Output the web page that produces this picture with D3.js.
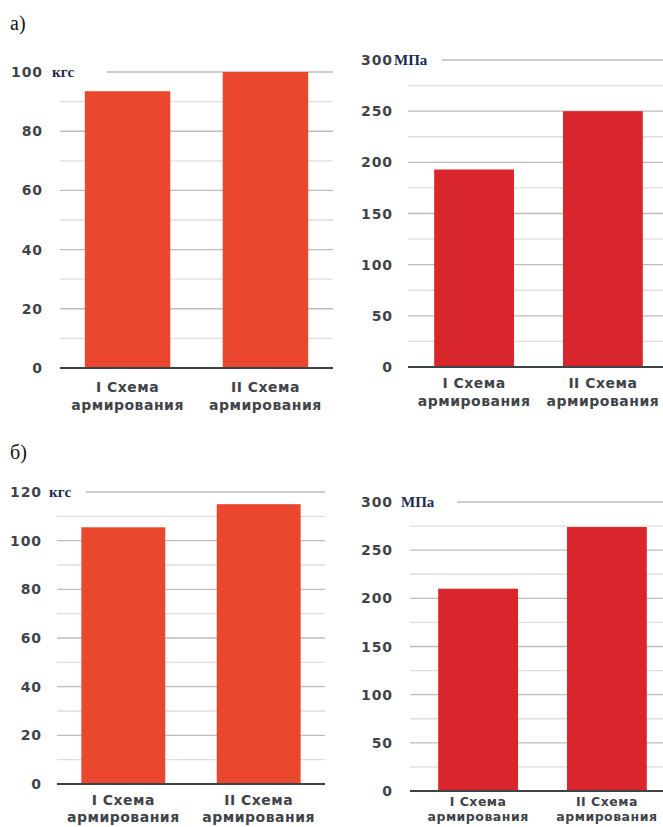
<!DOCTYPE html>
<html>
<head>
<meta charset="utf-8">
<script src="https://cdn.jsdelivr.net/npm/d3@7"></script>
<style>
  html, body { margin: 0; padding: 0; background: #fff; }
  svg { display: block; }
</style>
</head>
<body>
<svg id="chart" width="663" height="827"></svg>
<script>
// ---- data ----
const categories = [["I Схема", "армирования"], ["II Схема", "армирования"]];
const forceA = [93.5, 100];      // а) кгс
const stressA = [193, 250];      // а) МПа
const forceB = [105.5, 115];     // б) кгс
const stressB = [210, 274];      // б) МПа
const unitForce = "кгс";
const unitStress = "МПа";
const panelLetters = ["а)", "б)"];
const forceTicksA = [0, 20, 40, 60, 80, 100];
const stressTicks = [0, 50, 100, 150, 200, 250, 300];
const forceTicksB = [0, 20, 40, 60, 80, 100, 120];

const svg = d3.select("#chart");

const panels = [
  { values: forceA, ticks: forceTicksA, minorStep: 10, max: 100, unit: unitForce,
    y0: 368, y1: 72, gx0: 60, gx1: 333, topGx0: 107, bx0: 60, bx1: 333,
    labelX: 43, unitX: 52, color: "#E9482F", catDy: 19, lineGap: "1.3em", catSize: 14 },
  { values: stressA, ticks: stressTicks, minorStep: 25, max: 300, unit: unitStress,
    y0: 367, y1: 60, gx0: 408, gx1: 663, topGx0: 442, bx0: 411, bx1: 666,
    labelX: 393, unitX: 394, color: "#D9262D", catDy: 16, lineGap: "1.3em", catSize: 14 },
  { values: forceB, ticks: forceTicksB, minorStep: 10, max: 120, unit: unitForce,
    y0: 784, y1: 492, gx0: 57, gx1: 325, topGx0: 86, bx0: 57, bx1: 325,
    labelX: 42, unitX: 49, color: "#E9482F", catDy: 16, lineGap: "1.25em", catSize: 14 },
  { values: stressB, ticks: stressTicks, minorStep: 25, max: 300, unit: unitStress,
    y0: 791, y1: 502, gx0: 410, gx1: 663, topGx0: 457, bx0: 415, bx1: 670,
    labelX: 393, unitX: 401, color: "#D9262D", catDy: 10.5, lineGap: "1.2em", catSize: 12.5 }
];

// panel letters
svg.append("text").attr("x", 10).attr("y", 30)
  .attr("font-family", "Liberation Serif, serif").attr("font-size", 20)
  .attr("fill", "#111").text(panelLetters[0]);
svg.append("text").attr("x", 10).attr("y", 459)
  .attr("font-family", "Liberation Serif, serif").attr("font-size", 20)
  .attr("fill", "#111").text(panelLetters[1]);

panels.forEach((p, pi) => {
  const g = svg.append("g");
  const y = d3.scaleLinear().domain([0, p.max]).range([p.y0, p.y1]);
  const x = d3.scaleBand().domain(d3.range(p.values.length))
    .range([p.bx0, p.bx1]).paddingInner(0.38).paddingOuter(0.18);

  // minor grid lines
  const minor = d3.range(p.minorStep, p.max, p.minorStep).filter(v => !p.ticks.includes(v));
  g.selectAll(".minor").data(minor).join("line")
    .attr("x1", p.gx0).attr("x2", p.gx1)
    .attr("y1", d => y(d)).attr("y2", d => y(d))
    .attr("stroke", "#dedede").attr("stroke-width", 1.3);

  // major grid lines
  g.selectAll(".major").data(p.ticks.filter(t => t > 0)).join("line")
    .attr("x1", d => d === p.max ? p.topGx0 : p.gx0).attr("x2", p.gx1)
    .attr("y1", d => y(d)).attr("y2", d => y(d))
    .attr("stroke", "#bdbdbd").attr("stroke-width", 1.4);

  // bars
  g.selectAll(".bar").data(p.values).join("rect")
    .attr("x", (d, i) => x(i)).attr("width", x.bandwidth())
    .attr("y", d => y(d)).attr("height", d => y(0) - y(d))
    .attr("fill", p.color);

  // baseline
  g.append("line").attr("x1", p.gx0).attr("x2", p.gx1)
    .attr("y1", y(0)).attr("y2", y(0))
    .attr("stroke", "#3d4448").attr("stroke-width", 2);

  // tick labels
  g.selectAll(".tl").data(p.ticks).join("text")
    .attr("x", p.labelX).attr("y", d => y(d)).attr("dy", "0.36em")
    .attr("text-anchor", "end")
    .attr("font-family", "DejaVu Sans, sans-serif").attr("font-size", 14)
    .attr("font-weight", 600).attr("letter-spacing", 0.9)
    .attr("fill", "#3f4448").text(d => d);

  // unit label
  g.append("text").attr("x", p.unitX).attr("y", y(p.max)).attr("dy", "0.35em")
    .attr("font-family", "Liberation Serif, serif").attr("font-size", 15)
    .attr("font-weight", "bold").attr("fill", "#1c2a55").text(p.unit);

  // category labels
  categories.forEach((lines, i) => {
    const t = g.append("text")
      .attr("x", x(i) + x.bandwidth() / 2).attr("y", y(0) + p.catDy)
      .attr("text-anchor", "middle")
      .attr("font-family", "DejaVu Sans, sans-serif").attr("font-size", p.catSize)
      .attr("font-weight", 600).attr("letter-spacing", 0.5)
      .attr("fill", "#3f4448");
    lines.forEach((ln, k) => {
      t.append("tspan").attr("x", x(i) + x.bandwidth() / 2)
        .attr("dy", k === 0 ? "0.35em" : p.lineGap).text(ln);
    });
  });
});
</script>
</body>
</html>
